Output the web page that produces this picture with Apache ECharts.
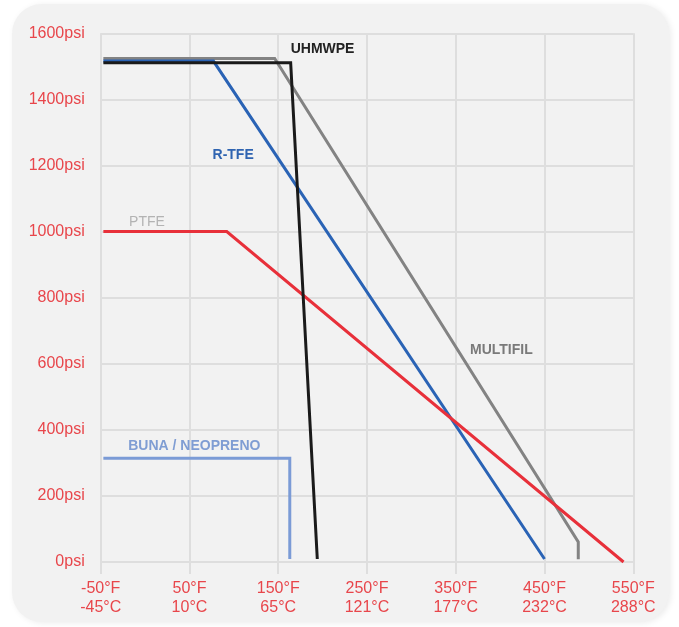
<!DOCTYPE html>
<html>
<head>
<meta charset="utf-8">
<script src="https://cdn.jsdelivr.net/npm/echarts@6/dist/echarts.min.js"></script>
<style>html,body{margin:0;padding:0;background:#fff;}#c{width:679px;height:627px;}</style>
</head>
<body>
<div id="c"></div>
<script>
// Tick labels
const xTicksF = ['-50°F', '50°F', '150°F', '250°F', '350°F', '450°F', '550°F'];
const xTicksC = ['-45°C', '10°C', '65°C', '121°C', '177°C', '232°C', '288°C'];
const yUnit = 'psi';

// Series (temperature °F, pressure psi)
const seriesNames = ['BUNA / NEOPRENO', 'MULTIFIL', 'R-TFE', 'PTFE', 'UHMWPE'];
const bunaNeopreno = [[-47, 314], [163, 314], [163, 9]];
const multifil = [[-47, 1524], [146, 1524], [488, 61], [488, 8]];
const rtfe = [[-47, 1516], [77, 1516], [450, 9]];
const ptfe = [[-47, 1000], [92, 1000], [539, 0]];
const uhmwpe = [[-47, 1511], [164, 1511], [194, 9]];

const chart = echarts.init(document.getElementById('c'), null, {renderer: 'canvas'});
const FONT = '"Liberation Sans", Arial, sans-serif';
const RED = '#e8464b';
const GRID = '#dedede';

const labelDefs = [
  {name: 'BUNA / NEOPRENO', coord: [-19, 350], color: '#7f9dd3', weight: 'bold'},
  {name: 'MULTIFIL', coord: [366, 641], color: '#7a7a7a', weight: 'bold'},
  {name: 'R-TFE', coord: [76, 1230], color: '#2f64b1', weight: 'bold'},
  {name: 'PTFE', coord: [-18, 1030], color: '#b3b3b3', weight: 'normal'},
  {name: 'UHMWPE', coord: [164, 1552], color: '#222222', weight: 'bold'}
];

function mkSeries(name, data, color) {
  const lbl = labelDefs.find(l => l.name === name);
  return {
    name: name, type: 'line', data: data, symbol: 'none',
    lineStyle: {color: color, width: 3, join: 'miter'},
    animation: false,
    markPoint: {
      symbol: 'circle', symbolSize: 0, animation: false,
      data: [{coord: lbl.coord, value: name}],
      label: {show: true, position: 'right', distance: 0, formatter: name,
        color: lbl.color, fontWeight: lbl.weight, fontSize: 14, fontFamily: FONT}
    }
  };
}

const option = {
  backgroundColor: '#ffffff',
  animation: false,
  graphic: [{
    type: 'rect', z: -100, silent: true,
    shape: {x: 12, y: 4, width: 657, height: 618, r: 30},
    style: {fill: '#f2f2f2', shadowBlur: 6, shadowColor: 'rgba(0,0,0,0.08)', shadowOffsetX: 2, shadowOffsetY: 1}
  }],
  grid: {left: 100.7, right: 45.7, top: 33.3, bottom: 65},
  xAxis: [{
    type: 'value', min: -50, max: 550, interval: 100, position: 'bottom',
    axisLine: {show: false},
    axisTick: {show: true, length: 12, lineStyle: {color: GRID, width: 2}},
    splitLine: {show: true, lineStyle: {color: GRID, width: 2}},
    axisLabel: {
      margin: 17, color: RED, fontSize: 16, fontFamily: FONT, lineHeight: 19,
      formatter: v => { const i = Math.round((v + 50) / 100); return xTicksF[i] + '\n' + xTicksC[i]; }
    }
  }, {
    type: 'value', min: -50, max: 550, interval: 100, position: 'top',
    axisLine: {show: false},
    axisTick: {show: true, length: 20, lineStyle: {color: GRID, width: 2}},
    splitLine: {show: false}, axisLabel: {show: false}
  }],
  yAxis: [{
    type: 'value', min: 0, max: 1600, interval: 200, position: 'left',
    axisLine: {show: false},
    axisTick: {show: true, length: 12, lineStyle: {color: GRID, width: 2}},
    splitLine: {show: true, lineStyle: {color: GRID, width: 2}},
    axisLabel: {margin: 16, color: RED, fontSize: 16, fontFamily: FONT, formatter: v => v + yUnit}
  }, {
    type: 'value', min: 0, max: 1600, interval: 200, position: 'right',
    axisLine: {show: false},
    axisTick: {show: true, length: 15, lineStyle: {color: GRID, width: 2}},
    splitLine: {show: false}, axisLabel: {show: false}
  }],
  series: [
    mkSeries('BUNA / NEOPRENO', bunaNeopreno, '#7b9bd6'),
    mkSeries('MULTIFIL', multifil, '#838383'),
    mkSeries('R-TFE', rtfe, '#2a63b5'),
    mkSeries('PTFE', ptfe, '#e8303a'),
    mkSeries('UHMWPE', uhmwpe, '#1a1a1a')
  ]
};
chart.setOption(option);
</script>
</body>
</html>
